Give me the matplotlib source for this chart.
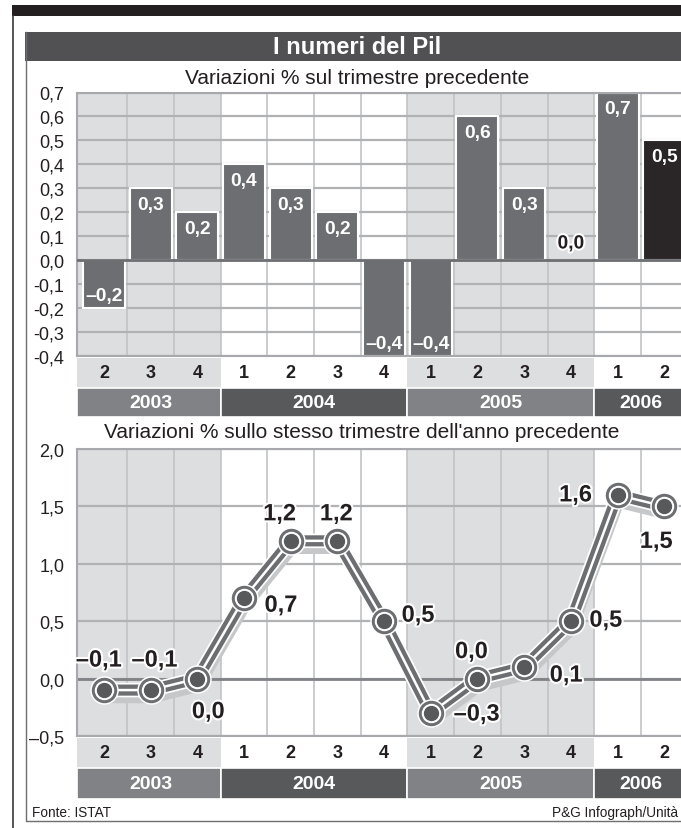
import numpy as np
import matplotlib
matplotlib.use('Agg')
import matplotlib.pyplot as plt
from matplotlib.patches import Rectangle
from matplotlib.lines import Line2D
import matplotlib.patheffects as pe
import matplotlib.transforms as mtransforms

# Dati: PIL italiano, variazioni % (fonte ISTAT)
years    = ['2003', '2004', '2005', '2006']
quarters = [['2', '3', '4'], ['1', '2', '3', '4'], ['1', '2', '3', '4'], ['1', '2']]

# variazioni % sul trimestre precedente
qoq = [-0.2, 0.3, 0.2, 0.4, 0.3, 0.2, -0.4, -0.4, 0.6, 0.3, 0.0, 0.7, 0.5]
# variazioni % sullo stesso trimestre dell'anno precedente
yoy = [-0.1, -0.1, 0.0, 0.7, 1.2, 1.2, 0.5, -0.3, 0.0, 0.1, 0.5, 1.6, 1.5]

qoq_ticks = [-0.4, -0.3, -0.2, -0.1, 0.0, 0.1, 0.2, 0.3, 0.4, 0.5, 0.6, 0.7]
yoy_ticks = [-0.5, 0.0, 0.5, 1.0, 1.5, 2.0]

title     = 'I numeri del Pil'
subtitle1 = 'Variazioni % sul trimestre precedente'
subtitle2 = "Variazioni % sullo stesso trimestre dell'anno precedente"
source    = 'Fonte: ISTAT'
credit    = 'P&G Infograph/Unità'

plt.rcParams['font.family'] = ['Liberation Sans', 'DejaVu Sans']

# colori
LIGHT  = '#dddee0'
BAR    = '#6d6e71'
LAST   = '#2a2627'
YEAR_A = '#808285'
YEAR_B = '#58595b'
GRID_H = '#b1b2b4'
GRID_V = '#c2c3c5'
BORDER = '#a7a9ac'
INK    = '#231f20'

W, H = 681, 829
fig = plt.figure(figsize=(W / 100, H / 100), dpi=100)
fig.patch.set_facecolor('white')

def box(x0, y0, x1, y1):
    return [x0 / W, 1 - y1 / H, (x1 - x0) / W, (y1 - y0) / H]

def fx(x):
    return x / W

def fy(y):
    return 1 - y / H

def fmt(v, dash='\u2013'):
    s = f'{abs(v):.1f}'.replace('.', ',')
    return (dash if v < -1e-9 else '') + s

n = sum(len(q) for q in quarters)
x = np.arange(n) + 0.5
XLO = -0.08
group_start = np.cumsum([0] + [len(q) for q in quarters])[:-1]

# --- cornice, fascia nera, titolo ---
fig.add_artist(Rectangle((fx(12), fy(17.3)), 1, 11.3 / H, transform=fig.transFigure,
                         color=INK, lw=0))
fig.add_artist(Line2D([fx(12.7), fx(12.7)], [fy(17), 0], transform=fig.transFigure,
                      color='#3a3a3a', lw=1.2))
fig.add_artist(Line2D([fx(25.5), fx(25.5), 1], [fy(33), fy(822), fy(822)],
                      transform=fig.transFigure, color='#6d6e71', lw=1.0))
fig.add_artist(Rectangle((fx(25), fy(61.7)), 1, 29 / H, transform=fig.transFigure,
                         color='#515153', lw=0))
fig.text(fx(357), fy(47.5), title, color='white', fontsize=17, fontweight='bold',
         ha='center', va='center')
fig.text(fx(357), fy(78.5), subtitle1, color=INK, fontsize=15, ha='center', va='center')
fig.text(fx(362), fy(433), subtitle2, color=INK, fontsize=15, ha='center', va='center')
fig.text(fx(31.7), fy(813), source, color=INK, fontsize=9.8, ha='left', va='center')
fig.text(fx(678), fy(813), credit, color=INK, fontsize=9.8, ha='right', va='center')


def shade(ax):
    # colonne grigie per 2003 e 2005
    for i, s in enumerate(group_start):
        if i % 2 == 0:
            lo = s if s > 0 else XLO - 1
            ax.axvspan(lo, s + len(quarters[i]), color=LIGHT, lw=0, zorder=0.2)


def frame(ax):
    for sp in ax.spines.values():
        sp.set_color(BORDER)
        sp.set_linewidth(1.5)
    ax.set_xlim(XLO, n)
    ax.set_xticks([])
    ax.set_xticks(np.arange(1, n), minor=True)
    ax.tick_params(axis='both', which='both', length=0)
    ax.tick_params(axis='y', pad=9, labelsize=13, labelcolor=INK)
    ax.set_axisbelow(True)
    ax.grid(axis='x', which='minor', color=GRID_V, lw=1.2)
    ax.grid(axis='y', which='major', color=GRID_H, lw=1.6)


def strip(ax):
    ax.set_xlim(XLO, n)
    ax.set_ylim(0, 2)
    ax.axis('off')
    for i, (yr, qs) in enumerate(zip(years, quarters)):
        s = group_start[i]
        lo = s if s > 0 else XLO
        hi = s + len(qs)
        ax.add_patch(Rectangle((lo, 1), hi - lo, 1, color=LIGHT if i % 2 == 0 else 'white', lw=0))
        ax.add_patch(Rectangle((lo, 0), hi - lo, 1, facecolor=YEAR_A if i % 2 == 0 else YEAR_B,
                               edgecolor='white', lw=1.2))
        for j, q in enumerate(qs):
            ax.text(s + j + 0.5, 1.5, q, ha='center', va='center', fontsize=13,
                    fontweight='bold', color=INK)
        ax.text(s + len(qs) / 2, 0.5, yr, ha='center', va='center', fontsize=14,
                fontweight='bold', color='white')


# --- grafico 1: barre ---
ax1 = fig.add_axes(box(76.8, 93.5, 687.6, 356.7))
frame(ax1)
shade(ax1)
ax1.set_ylim(-0.4, 0.7)
ax1.set_yticks(qoq_ticks)
ax1.set_yticklabels([fmt(v, '-') for v in qoq_ticks])
colors = [BAR] * (n - 1) + [LAST]
ax1.bar(x, qoq, width=0.9, color=colors, edgecolor='white', lw=1.5, zorder=2)
ax1.axhline(0, color=BAR, lw=2, zorder=3)
for xi, v in zip(x, qoq):
    if v > 0:
        ax1.annotate(fmt(v), (xi, v), xytext=(0, -16), textcoords='offset pixels',
                     ha='center', va='center', fontsize=13.8, fontweight='bold',
                     color='white', zorder=4)
    elif v < 0:
        ax1.annotate(fmt(v), (xi, v), xytext=(0, 12), textcoords='offset pixels',
                     ha='center', va='center', fontsize=13.8, fontweight='bold',
                     color='white', zorder=4)
    else:
        ax1.annotate(fmt(v), (xi, v), xytext=(0, 16), textcoords='offset pixels',
                     ha='center', va='center', fontsize=13.8, fontweight='bold', color=INK,
                     zorder=4, path_effects=[pe.withStroke(linewidth=3, foreground='white')])

strip(fig.add_axes(box(76.8, 359, 687.6, 418.3)))

# --- grafico 2: linea ---
ax2 = fig.add_axes(box(76.8, 450, 687.6, 737))
frame(ax2)
shade(ax2)
ax2.set_ylim(-0.5, 2.0)
ax2.set_yticks(yoy_ticks)
ax2.set_yticklabels([fmt(v) for v in yoy_ticks])
ax2.axhline(0, color=YEAR_A, lw=2, zorder=1)

shadow = mtransforms.offset_copy(ax2.transData, fig=fig, x=2, y=-9, units='dots')
ax2.plot(x, yoy, color='#c6c7c9', lw=6, transform=shadow, zorder=2,
         solid_joinstyle='round', solid_capstyle='round')
ax2.plot(x, yoy, color='white', lw=10.5, zorder=3, solid_joinstyle='round')
ax2.plot(x, yoy, color=BAR, lw=8, zorder=4, solid_joinstyle='round')
ax2.plot(x, yoy, color='white', lw=1.8, zorder=5, solid_joinstyle='round')
ax2.plot(x, yoy, 'o', ms=19.5, color='white', zorder=6)
ax2.plot(x, yoy, 'o', ms=17.3, color=BAR, zorder=7)
ax2.plot(x, yoy, 'o', ms=13, color='white', zorder=8)
ax2.plot(x, yoy, 'o', ms=10, color=YEAR_B, zorder=9)

# spostamenti delle etichette (pixel, y verso il basso come nel disegno)
label_off = [(-5, -30), (4, -30), (11, 33), (37, 7), (-11, -27), (-1, -27), (34, -6),
             (46, 1), (-6, -27), (42, 8), (35, -1), (-42, 0), (-8, 35)]
for xi, v, (dx, dy) in zip(x, yoy, label_off):
    ax2.annotate(fmt(v), (xi, v), xytext=(dx, -dy), textcoords='offset pixels',
                 ha='center', va='center', fontsize=17, fontweight='bold', color=INK,
                 zorder=10, path_effects=[pe.withStroke(linewidth=3, foreground='white')])

strip(fig.add_axes(box(76.8, 738.5, 687.6, 800)))

fig.savefig('out.png', dpi=100)
